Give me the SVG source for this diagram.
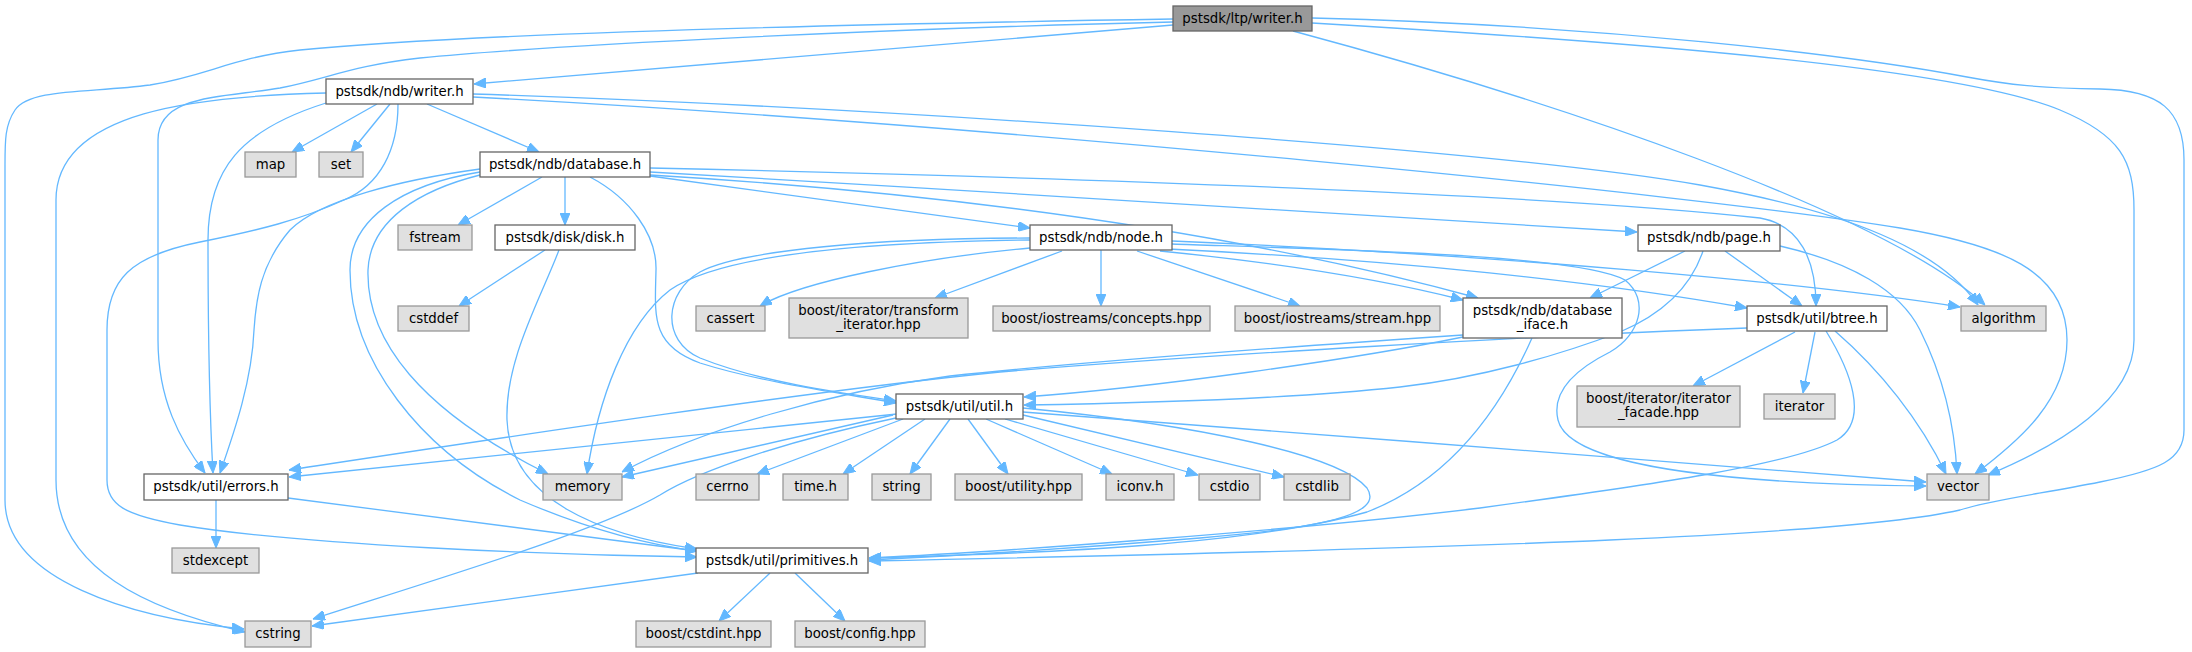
<svg xmlns="http://www.w3.org/2000/svg" width="2192" height="652" viewBox="0 0 2192 652">
<style>
.n rect{fill:#ffffff;stroke:#666666;stroke-width:1.3}
.x rect{fill:#e0e0e0;stroke:#999999;stroke-width:1.3}
.r rect{fill:#999999;stroke:#666666;stroke-width:1.3}
text{font-family:"DejaVu Sans","Liberation Sans",sans-serif;font-size:13.3px;fill:#000000;text-anchor:middle}
#edges path{fill:none;stroke:#63b8ff;stroke-width:1.3;marker-end:url(#arr)}
</style>
<defs>
<marker id="arr" markerUnits="userSpaceOnUse" viewBox="0 0 12 10" markerWidth="12" markerHeight="10" refX="12" refY="5" orient="auto">
<path d="M0,0 L12,5 L0,10 z" fill="#63b8ff" stroke="#63b8ff" stroke-width="1"/>
</marker>
</defs>
<rect width="2192" height="652" fill="#ffffff"/>
<g id="edges">
<path d="M1173,25 L474,84"/>
<path d="M1173,19 C800,25 450,35 300,50 C230,58 210,75 150,85 C90,93 30,88 15,110 C5,125 5,140 5,165 L5,500 C5,580 130,618 244,629"/>
<path d="M1173,22 C900,28 550,45 420,58 C350,66 330,78 280,88 C220,98 158,95 158,140 L158,340 C158,400 180,440 205,473"/>
<path d="M1293,31 C1550,100 1880,210 1985,305"/>
<path d="M1312,23 C1600,40 1950,65 2060,110 C2120,135 2134,160 2134,210 L2134,340 C2134,400 2060,445 1988,475"/>
<path d="M1312,18 C1600,25 1850,55 1967,77 C2010,85 2040,88 2100,89 C2160,90 2184,110 2184,160 L2184,430 C2184,460 2160,470 2100,482 C2040,494 1990,500 1960,510 C1850,535 1500,548 869,561"/>
<path d="M377,104 L292,152"/>
<path d="M390,104 L351,152"/>
<path d="M427,104 L539,152"/>
<path d="M326,93 C200,96 56,110 56,200 L56,480 C56,570 150,610 245,632"/>
<path d="M326,103 C240,130 208,170 208,240 C208,330 210,420 213,473"/>
<path d="M398,104 C398,150 380,185 344,200 C300,220 260,230 200,242 C130,256 107,280 107,330 L107,480 C107,505 125,515 180,525 C300,545 550,555 697,557"/>
<path d="M473,94 C900,108 1500,150 1700,185 C1850,212 1940,250 1978,305"/>
<path d="M473,97 C1000,125 1700,195 1900,228 C2000,245 2067,270 2067,340 C2067,400 2020,440 1975,474"/>
<path d="M542,177 L458,225"/>
<path d="M565,177 L565,225"/>
<path d="M650,176 L1030,228"/>
<path d="M650,172 C1000,192 1400,218 1637,232"/>
<path d="M650,168 C1100,178 1550,195 1760,218 C1800,225 1816,260 1816,306"/>
<path d="M650,175 C900,190 1200,222 1478,298"/>
<path d="M590,177 C630,198 657,235 656,270 C655,315 650,345 700,363 C760,382 840,393 896,403"/>
<path d="M480,175 C420,190 370,220 368,270 C366,340 420,410 548,474"/>
<path d="M480,172 C400,185 350,220 350,270 C350,360 420,450 520,500 C590,530 650,545 697,551"/>
<path d="M480,169 C400,180 320,200 290,230 C260,265 256,300 254,330 C252,380 235,430 220,473"/>
<path d="M545,250 L459,306"/>
<path d="M559,250 C540,300 505,360 507,420 C510,500 600,535 697,549"/>
<path d="M1030,248 C920,258 800,282 760,306"/>
<path d="M1062,251 L935,298"/>
<path d="M1101,250 L1101,306"/>
<path d="M1137,251 L1300,306"/>
<path d="M1030,240 C860,242 720,255 670,290 C625,325 598,400 587,474"/>
<path d="M1030,238 C880,238 740,250 700,272 C665,292 660,340 700,358 C760,382 840,393 896,401"/>
<path d="M1160,251 C1300,265 1400,284 1463,300"/>
<path d="M1168,249 C1400,260 1600,282 1747,308"/>
<path d="M1172,241 C1500,255 1800,282 1960,307"/>
<path d="M1172,244 C1350,250 1580,255 1625,280 C1650,300 1640,335 1610,352 C1570,372 1552,395 1558,420 C1570,470 1750,484 1926,486"/>
<path d="M1685,251 L1590,298"/>
<path d="M1725,251 L1802,306"/>
<path d="M1703,251 C1690,290 1660,315 1620,332 C1560,355 1480,378 1400,387 C1300,398 1150,403 1024,405"/>
<path d="M1780,246 C1850,262 1900,290 1920,330 C1945,380 1955,430 1957,474"/>
<path d="M1463,337 C1350,360 1150,388 1024,397"/>
<path d="M1532,338 C1500,410 1450,480 1367,512 C1250,545 1050,553 869,558"/>
<path d="M1463,335 C1300,346 1100,360 950,376 C830,392 700,430 622,472"/>
<path d="M1795,332 L1693,386"/>
<path d="M1815,332 L1803,393"/>
<path d="M1835,331 C1880,370 1920,420 1946,474"/>
<path d="M1826,331 C1850,370 1870,420 1837,440 C1790,465 1650,485 1480,508 C1300,530 1000,552 869,558"/>
<path d="M1747,328 C1550,335 1200,355 1000,372 C800,392 500,438 289,470"/>
<path d="M897,414 L289,477"/>
<path d="M893,415 L622,477"/>
<path d="M903,419 L757,474"/>
<path d="M925,419 L843,474"/>
<path d="M950,419 L910,474"/>
<path d="M968,419 L1008,474"/>
<path d="M986,419 L1112,474"/>
<path d="M1005,419 L1198,475"/>
<path d="M1023,415 L1284,477"/>
<path d="M1023,412 C1300,432 1700,465 1926,482"/>
<path d="M1023,408 C1200,425 1340,455 1367,488 C1385,515 1320,528 1200,538 C1080,548 950,556 869,560"/>
<path d="M896,418 C790,440 700,470 660,495 C600,530 450,575 313,619"/>
<path d="M216,500 L216,548"/>
<path d="M288,498 L697,551"/>
<path d="M698,573 L312,626"/>
<path d="M770,573 L719,621"/>
<path d="M795,573 L845,621"/>
</g>
<g id="n0" class="r"><rect x="1173" y="6" width="139" height="25"/><text x="1242.5" y="22.5">pstsdk/ltp/writer.h</text></g>
<g id="n1" class="n"><rect x="326" y="79" width="147" height="25"/><text x="399.5" y="95.5">pstsdk/ndb/writer.h</text></g>
<g id="n2" class="x"><rect x="245" y="152" width="51" height="25"/><text x="270.5" y="168.5">map</text></g>
<g id="n3" class="x"><rect x="319" y="152" width="44" height="25"/><text x="341" y="168.5">set</text></g>
<g id="n4" class="n"><rect x="480" y="152" width="170" height="25"/><text x="565" y="168.5">pstsdk/ndb/database.h</text></g>
<g id="n5" class="x"><rect x="398" y="225" width="74" height="25"/><text x="435" y="241.5">fstream</text></g>
<g id="n6" class="n"><rect x="495" y="225" width="140" height="25"/><text x="565" y="241.5">pstsdk/disk/disk.h</text></g>
<g id="n7" class="x"><rect x="398" y="306" width="71" height="25"/><text x="433.5" y="322.5">cstddef</text></g>
<g id="n8" class="n"><rect x="1030" y="225" width="142" height="25"/><text x="1101" y="241.5">pstsdk/ndb/node.h</text></g>
<g id="n9" class="x"><rect x="696" y="306" width="69" height="25"/><text x="730.5" y="322.5">cassert</text></g>
<g id="n10" class="x"><rect x="789" y="298" width="179" height="40"/><text x="878.5" y="315">boost/iterator/transform</text><text x="878.5" y="329">_iterator.hpp</text></g>
<g id="n11" class="x"><rect x="993" y="306" width="217" height="25"/><text x="1101.5" y="322.5">boost/iostreams/concepts.hpp</text></g>
<g id="n12" class="x"><rect x="1235" y="306" width="205" height="25"/><text x="1337.5" y="322.5">boost/iostreams/stream.hpp</text></g>
<g id="n13" class="n"><rect x="1638" y="225" width="142" height="26"/><text x="1709" y="242">pstsdk/ndb/page.h</text></g>
<g id="n14" class="n"><rect x="1463" y="298" width="159" height="40"/><text x="1542.5" y="315">pstsdk/ndb/database</text><text x="1542.5" y="329">_iface.h</text></g>
<g id="n15" class="n"><rect x="1747" y="306" width="140" height="25"/><text x="1817" y="322.5">pstsdk/util/btree.h</text></g>
<g id="n16" class="x"><rect x="1961" y="306" width="85" height="25"/><text x="2003.5" y="322.5">algorithm</text></g>
<g id="n17" class="n"><rect x="896" y="394" width="127" height="25"/><text x="959.5" y="410.5">pstsdk/util/util.h</text></g>
<g id="n18" class="x"><rect x="1577" y="386" width="163" height="41"/><text x="1658.5" y="403">boost/iterator/iterator</text><text x="1658.5" y="417">_facade.hpp</text></g>
<g id="n19" class="x"><rect x="1764" y="394" width="71" height="25"/><text x="1799.5" y="410.5">iterator</text></g>
<g id="n20" class="n"><rect x="144" y="474" width="144" height="26"/><text x="216" y="491">pstsdk/util/errors.h</text></g>
<g id="n21" class="x"><rect x="543" y="474" width="79" height="26"/><text x="582.5" y="491">memory</text></g>
<g id="n22" class="x"><rect x="696" y="474" width="63" height="26"/><text x="727.5" y="491">cerrno</text></g>
<g id="n23" class="x"><rect x="783" y="474" width="65" height="26"/><text x="815.5" y="491">time.h</text></g>
<g id="n24" class="x"><rect x="872" y="474" width="59" height="26"/><text x="901.5" y="491">string</text></g>
<g id="n25" class="x"><rect x="955" y="474" width="127" height="26"/><text x="1018.5" y="491">boost/utility.hpp</text></g>
<g id="n26" class="x"><rect x="1106" y="474" width="68" height="26"/><text x="1140" y="491">iconv.h</text></g>
<g id="n27" class="x"><rect x="1199" y="474" width="61" height="26"/><text x="1229.5" y="491">cstdio</text></g>
<g id="n28" class="x"><rect x="1284" y="474" width="66" height="26"/><text x="1317" y="491">cstdlib</text></g>
<g id="n29" class="x"><rect x="1927" y="474" width="62" height="26"/><text x="1958" y="491">vector</text></g>
<g id="n30" class="x"><rect x="172" y="548" width="87" height="25"/><text x="215.5" y="564.5">stdexcept</text></g>
<g id="n31" class="n"><rect x="696" y="548" width="172" height="25"/><text x="782" y="564.5">pstsdk/util/primitives.h</text></g>
<g id="n32" class="x"><rect x="245" y="621" width="66" height="26"/><text x="278" y="638">cstring</text></g>
<g id="n33" class="x"><rect x="636" y="621" width="135" height="26"/><text x="703.5" y="638">boost/cstdint.hpp</text></g>
<g id="n34" class="x"><rect x="795" y="621" width="130" height="26"/><text x="860" y="638">boost/config.hpp</text></g>
</svg>
